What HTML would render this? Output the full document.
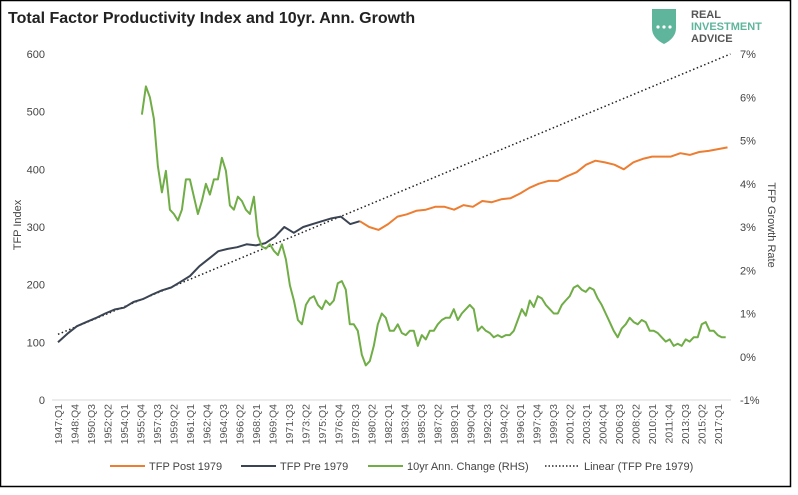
<!DOCTYPE html>
<html><head><meta charset="utf-8"><style>
body{margin:0;background:#fff;}
svg{display:block;font-family:"Liberation Sans",sans-serif;}
</style></head><body>
<svg id="chart" width="798" height="495" viewBox="0 0 798 495">
<rect x="0.5" y="0.5" width="790" height="486" fill="#fff" stroke="#000" stroke-width="1.5"/>
<text x="8" y="23" font-size="16" font-weight="bold" fill="#222">Total Factor Productivity Index and 10yr. Ann. Growth</text>
<g>
<path d="M652 9 L676 9 L676 28 Q676 38 664 44 Q652 38 652 28 Z" fill="#5fb49c"/>
<circle cx="658" cy="27" r="1.6" fill="#fff"/><circle cx="664" cy="27" r="1.6" fill="#fff"/><circle cx="670" cy="27" r="1.6" fill="#fff"/>
<text x="691" y="18" font-size="11" font-weight="bold" fill="#555">REAL</text>
<text x="691" y="30" font-size="11" font-weight="bold" fill="#5fb49c">INVESTMENT</text>
<text x="691" y="42" font-size="11" font-weight="bold" fill="#555">ADVICE</text>
</g>
<text transform="translate(21,225) rotate(-90)" text-anchor="middle" font-size="11" fill="#444">TFP Index</text>
<text transform="translate(768,225) rotate(90)" text-anchor="middle" font-size="11" fill="#444">TFP Growth Rate</text>
<g id="axes"></g>
<g id="marks"></g>
<g>
<line x1="110" y1="466" x2="145" y2="466" stroke="#ed7d31" stroke-width="2"/>
<text x="149" y="470" font-size="11" fill="#444">TFP Post 1979</text>
<line x1="241" y1="466" x2="276" y2="466" stroke="#3b4452" stroke-width="2"/>
<text x="280" y="470" font-size="11" fill="#444">TFP Pre 1979</text>
<line x1="368" y1="466" x2="403" y2="466" stroke="#70ad47" stroke-width="2"/>
<text x="407" y="470" font-size="11" fill="#444">10yr Ann. Change (RHS)</text>
<line x1="545" y1="466" x2="580" y2="466" stroke="#222" stroke-width="1.5" stroke-dasharray="1.5,2"/>
<text x="584" y="470" font-size="11" fill="#444">Linear (TFP Pre 1979)</text>
</g>
</svg>
<script>
const leftTicks=[0,100,200,300,400,500,600];
const rightTicks=[-1,0,1,2,3,4,5,6,7];
const rightTickLabels=["-1%","0%","1%","2%","3%","4%","5%","6%","7%"];
const xLabels=["1947:Q1","1948:Q4","1950:Q3","1952:Q2","1954:Q1","1955:Q4","1957:Q3","1959:Q2","1961:Q1","1962:Q4","1964:Q3","1966:Q2","1968:Q1","1969:Q4","1971:Q3","1973:Q2","1975:Q1","1976:Q4","1978:Q3","1980:Q2","1982:Q1","1983:Q4","1985:Q3","1987:Q2","1989:Q1","1990:Q4","1992:Q3","1994:Q2","1996:Q1","1997:Q4","1999:Q3","2001:Q2","2003:Q1","2004:Q4","2006:Q3","2008:Q2","2010:Q1","2011:Q4","2013:Q3","2015:Q2","2017:Q1"];
const preYears=[1947,1948,1949,1950,1951,1952,1953,1954,1955,1956,1957,1958,1959,1960,1961,1962,1963,1964,1965,1966,1967,1968,1969,1970,1971,1972,1973,1974,1975,1976,1977,1978,1979];
const preValues=[100,115,128,135,142,150,157,160,170,175,183,190,195,205,215,232,245,258,262,265,270,268,272,283,300,290,300,305,310,315,318,305,310];
const postYears=[1979,1980,1981,1982,1983,1984,1985,1986,1987,1988,1989,1990,1991,1992,1993,1994,1995,1996,1997,1998,1999,2000,2001,2002,2003,2004,2005,2006,2007,2008,2009,2010,2011,2012,2013,2014,2015,2016,2017,2018];
const postValues=[310,300,295,305,318,322,328,330,335,335,330,338,335,345,343,348,350,358,368,375,380,380,388,395,408,415,412,408,400,412,418,422,422,422,428,425,430,432,435,438];
const growthStart=1955.9;
const growthStep=0.424;
const growthValues=[5.6,6.25,6.0,5.5,4.4,3.8,4.3,3.4,3.3,3.15,3.4,4.1,4.1,3.7,3.3,3.6,4.0,3.75,4.1,4.1,4.6,4.3,3.5,3.4,3.7,3.6,3.4,3.3,3.7,2.8,2.55,2.5,2.6,2.45,2.35,2.6,2.25,1.65,1.3,0.85,0.75,1.2,1.35,1.4,1.2,1.1,1.3,1.2,1.3,1.7,1.75,1.55,0.75,0.75,0.6,0.05,-0.2,-0.1,0.25,0.75,1.0,0.9,0.6,0.6,0.75,0.55,0.5,0.6,0.6,0.25,0.5,0.4,0.6,0.6,0.75,0.85,0.9,0.9,1.1,0.85,1.0,1.1,1.2,1.1,0.6,0.7,0.6,0.55,0.45,0.5,0.45,0.5,0.5,0.6,0.85,1.1,0.95,1.3,1.15,1.4,1.35,1.2,1.1,1.0,1.0,1.2,1.3,1.4,1.6,1.65,1.55,1.5,1.6,1.55,1.35,1.2,1.0,0.8,0.6,0.45,0.65,0.75,0.9,0.8,0.75,0.85,0.8,0.6,0.6,0.55,0.45,0.35,0.4,0.25,0.3,0.25,0.4,0.35,0.45,0.45,0.75,0.8,0.6,0.6,0.5,0.45,0.45];
const trendYears=[1947,2018.3];
const trendValues=[114,600];

const NS="http://www.w3.org/2000/svg";
const xS=y=>58+(y-1947)*9.43;
const yL=v=>400-v*0.5767;
const yR=v=>356.75-v*43.25;
const axes=document.getElementById('axes'),marks=document.getElementById('marks');
function mk(tag,attrs,parent){const e=document.createElementNS(NS,tag);for(const k in attrs)e.setAttribute(k,attrs[k]);parent.appendChild(e);return e;}
const base=mk('line',{x1:52,x2:731,y1:400,y2:400,stroke:'#d9d9d9'},axes);


leftTicks.forEach(v=>{const t=mk('text',{x:45,y:yL(v)+4,'text-anchor':'end','font-size':11,fill:'#444'},axes);t.textContent=v;

});
rightTicks.forEach((v,i)=>{const t=mk('text',{x:740,y:yR(v)+4,'font-size':11,fill:'#444'},axes);t.textContent=rightTickLabels[i];

});
xLabels.forEach((s,i)=>{const x=58+i*16.5;const t=mk('text',{transform:`translate(${x+4},404) rotate(-90)`,'text-anchor':'end','font-size':10.5,fill:'#555'},axes);t.textContent=s;

});
function path(xs,ys,yf,stroke,name,dash){const d=xs.map((x,i)=>(i?'L':'M')+xS(x).toFixed(1)+' '+yf(ys[i]).toFixed(1)).join(' ');
const p=mk('path',{d:d,fill:'none',stroke:stroke,'stroke-width':dash?1.5:2,'stroke-linejoin':'round'},marks);if(dash)p.setAttribute('stroke-dasharray','1.5,2.5');

}
path(trendYears,trendValues,yL,'#222','linear-trend-line',true);
path(preYears,preValues,yL,'#3b4452','tfp-pre-1979-line');
path(postYears,postValues,yL,'#ed7d31','tfp-post-1979-line');
const gYears=growthValues.map((v,i)=>growthStart+i*growthStep);
path(gYears,growthValues,yR,'#70ad47','growth-rate-line');
</script>
</body></html>
